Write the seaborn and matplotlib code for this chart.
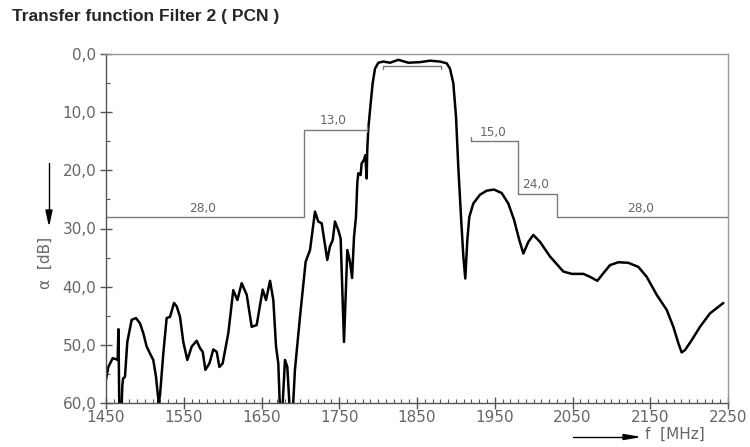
import numpy as np
import pandas as pd
import seaborn as sns
import matplotlib.pyplot as plt
from matplotlib.ticker import MultipleLocator

freq_mhz = [1450, 1453, 1458.6, 1463.7, 1465, 1466, 1467.2, 1469.7, 1471, 1472, 1474.4,
            1477.4, 1480, 1483, 1488.6, 1493.7, 1498, 1502.3, 1506.6, 1510.8, 1514.3,
            1517.8, 1519.5, 1523.7, 1528, 1532.3, 1537.5, 1541, 1545.2, 1549.4, 1554.6,
            1560.2, 1566.6, 1571, 1574.4, 1577.8, 1583, 1588, 1592.4, 1595.8, 1600,
            1607.3, 1613.7, 1619, 1624.5, 1631, 1637.4, 1643.8, 1651.5, 1655.8, 1661,
            1665.2, 1668.7, 1671.6, 1674, 1676.5, 1680.2, 1683.2, 1686.7, 1690, 1693,
            1699.5, 1706.8, 1712.4, 1718.8, 1723, 1727.4, 1734.6, 1738, 1741.6, 1744.5,
            1748.8, 1751.8, 1756.1, 1760.4, 1763.8, 1766.5, 1769, 1771.5, 1773.2, 1774.5,
            1777.5, 1778.8, 1781.8, 1783.5, 1785.3, 1786, 1787.4, 1790.4, 1793, 1796,
            1800.3, 1806.7, 1815.3, 1826, 1838.8, 1853.9, 1866.7, 1879.6, 1888.2, 1892.4,
            1896.7, 1900.2, 1903.1, 1906.6, 1909.6, 1912.1, 1914.7, 1917.3, 1922.4, 1931,
            1939.6, 1949, 1958.9, 1967.4, 1974.8, 1981.6, 1986.8, 1993.2, 1999.6, 2008.2,
            2021, 2038.2, 2049, 2064, 2072.5, 2081.9, 2089.6, 2098.2, 2109, 2121.8,
            2134.7, 2145.4, 2158.3, 2171.2, 2179.7, 2186.1, 2190.4, 2194.7, 2203.3, 2214,
            2226.8, 2244]
atten_db = [56.0, 53.8, 52.3, 52.5, 52.6, 47.3, 62, 62, 57.0, 55.8, 55.5,
            49.5, 47.7, 45.7, 45.4, 46.3, 48.0, 50.3, 51.5, 52.6, 55.5,
            60.0, 58.6, 51.5, 45.4, 45.2, 42.8, 43.4, 45.2, 49.5, 52.6,
            50.3, 49.3, 50.6, 51.2, 54.3, 53.2, 50.8, 51.2, 53.8, 53.2,
            48.0, 40.6, 42.3, 39.4, 41.4, 46.9, 46.6, 40.5, 42.3, 39.0,
            42.3, 50.3, 53.2, 62, 62, 52.6, 53.8, 62, 62, 54.3,
            45.2, 35.7, 33.7, 27.1, 28.8, 29.1, 35.4, 33.1, 32.0, 28.8,
            30.3, 31.7, 49.5, 33.7, 35.7, 38.5, 31.4, 28.0, 22.2, 20.5,
            20.8, 18.8, 18.2, 17.4, 21.4, 16.5, 12.8, 8.5, 5.0, 2.5,
            1.5, 1.3, 1.5, 1.0, 1.5, 1.4, 1.15, 1.3, 1.6, 2.5,
            5.0, 10.8, 19.4, 28.0, 34.8, 38.6, 32.0, 28.0, 25.7, 24.2,
            23.5, 23.3, 23.9, 25.7, 28.5, 32.0, 34.3, 32.3, 31.1, 32.3,
            34.8, 37.4, 37.8, 37.8, 38.3, 39.0, 37.7, 36.3, 35.8, 35.9,
            36.6, 38.3, 41.4, 44.0, 46.9, 49.7, 51.3, 50.9, 49.2, 46.9,
            44.6, 42.8]

# stopband mask, lower and upper side
mask_lo_f = [1450, 1705, 1705, 1786]
mask_lo_db = [28, 28, 13, 13]
mask_hi_f = [1920, 1980, 1980, 2030, 2030, 2250]
mask_hi_db = [15, 15, 24, 24, 28, 28]
mask_labels = ["28,0", "13,0", "15,0", "24,0", "28,0"]
mask_label_f = [1574, 1742, 1948, 2003, 2137]
mask_label_db = [28, 13, 15, 24, 28]

# passband bracket
pass_f = [1806, 1806, 1881, 1881]
pass_db = [2.6, 2.0, 2.0, 2.6]

x_ticks = [1450, 1550, 1650, 1750, 1850, 1950, 2050, 2150, 2250]
y_ticks = [0, 10, 20, 30, 40, 50, 60]
y_ticklabels = ["0,0", "10,0", "20,0", "30,0", "40,0", "50,0", "60,0"]

sns.set_style("white")
plt.rcParams['font.family'] = ['DejaVu Sans']

fig = plt.figure(figsize=(7.5, 4.47), dpi=100)
ax = fig.add_axes([106 / 750, 1 - 403 / 447, 622 / 750, 349 / 447])

grey = "#7a7a7a"
txt = "#666666"
df = pd.DataFrame({"f": freq_mhz, "a": atten_db})
sns.lineplot(data=df, x="f", y="a", sort=False, estimator=None, color="black", linewidth=1.8, ax=ax)
sns.lineplot(x=mask_lo_f, y=mask_lo_db, sort=False, estimator=None, color=grey, linewidth=1.0, ax=ax)
sns.lineplot(x=mask_hi_f, y=mask_hi_db, sort=False, estimator=None, color=grey, linewidth=1.0, ax=ax)
sns.lineplot(x=pass_f, y=pass_db, sort=False, estimator=None, color=grey, linewidth=1.0, ax=ax)
# small end marks of the mask lines
ax.plot([1786, 1786], [12.4, 13.4], color=grey, lw=1.0)
ax.plot([1920, 1920], [14.3, 15], color=grey, lw=1.0)

for lab, lf, ld in zip(mask_labels, mask_label_f, mask_label_db):
    ax.text(lf, ld - 0.4, lab, ha="center", va="bottom", fontsize=8.7, color=txt)

ax.set_xlim(1450, 2250)
ax.set_ylim(60, 0)
ax.set_xticks(x_ticks)
ax.set_yticks(y_ticks)
ax.set_yticklabels(y_ticklabels)
ax.xaxis.set_minor_locator(MultipleLocator(10))
ax.yaxis.set_minor_locator(MultipleLocator(5))
ax.set_xlabel("")
ax.set_ylabel("")
ax.tick_params(axis="both", which="major", direction="inout", length=8, width=1.0,
               color="#555555", labelcolor=txt, labelsize=11, pad=3)
ax.tick_params(axis="x", which="major", pad=1)
ax.tick_params(axis="both", which="minor", direction="in", length=3, width=0.8, color="#555555")
ax.tick_params(bottom=True, left=True, which="both")

for side in ["left", "bottom"]:
    ax.spines[side].set_color("#555555")
    ax.spines[side].set_linewidth(1.0)
for side in ["top", "right"]:
    ax.spines[side].set_color("#999999")
    ax.spines[side].set_linewidth(1.0)

fig.text(12 / 750, 1 - 16 / 447, "Transfer function Filter 2 ( PCN )", fontsize=12.5,
         fontweight="bold", va="center", ha="left", family="Liberation Sans")

# axis labels with arrows
fig.text(45 / 750, 1 - 263 / 447, "\u03b1  [dB]", rotation=90, ha="center", va="center",
         fontsize=11, color=txt)
fig.add_artist(plt.Line2D([49 / 750, 49 / 750], [1 - 163 / 447, 1 - 212 / 447], color="black", lw=1.0))
fig.patches.append(plt.Polygon([[46 / 750, 1 - 210 / 447], [52 / 750, 1 - 210 / 447], [49 / 750, 1 - 224 / 447]],
                               closed=True, color="black", transform=fig.transFigure, figure=fig))
fig.add_artist(plt.Line2D([573 / 750, 625 / 750], [1 - 437 / 447, 1 - 437 / 447], color="black", lw=1.0))
fig.patches.append(plt.Polygon([[623 / 750, 1 - 434.5 / 447], [623 / 750, 1 - 439.5 / 447], [638 / 750, 1 - 437 / 447]],
                               closed=True, color="black", transform=fig.transFigure, figure=fig))
fig.text(645 / 750, 1 - 434 / 447, "f  [MHz]", ha="left", va="center", fontsize=11, color=txt)

fig.savefig("out.png", dpi=100)
